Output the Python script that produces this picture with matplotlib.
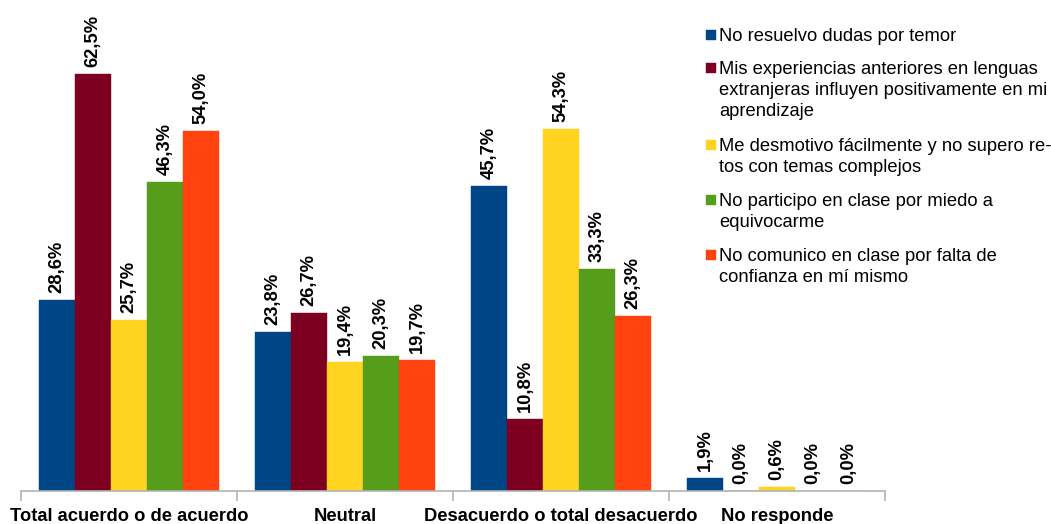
import numpy as np
import matplotlib.pyplot as plt
from matplotlib.patches import Rectangle

plt.rcParams["font.family"] = ["Liberation Sans", "DejaVu Sans"]

categories = [
    "Total acuerdo o de acuerdo",
    "Neutral",
    "Desacuerdo o total desacuerdo",
    "No responde",
]
series_labels = [
    "No resuelvo dudas por temor",
    "Mis experiencias anteriores en lenguas\nextranjeras influyen positivamente en mi\naprendizaje",
    "Me desmotivo fácilmente y no supero re-\ntos con temas complejos",
    "No participo en clase por miedo a\nequivocarme",
    "No comunico en clase por falta de\nconfianza en mí mismo",
]
no_resuelvo = [28.6, 23.8, 45.7, 1.9]
experiencias = [62.5, 26.7, 10.8, 0.0]
desmotivo = [25.7, 19.4, 54.3, 0.6]
no_participo = [46.3, 20.3, 33.3, 0.0]
no_comunico = [54.0, 19.7, 26.3, 0.0]

series = [no_resuelvo, experiencias, desmotivo, no_participo, no_comunico]
colors = ["#004586", "#7e0021", "#ffd320", "#579d1c", "#ff420e"]

W, H = 1051, 524


def fmt(v):
    return ("%.1f" % v).replace(".", ",") + "%"


fig = plt.figure(figsize=(W / 100, H / 100), dpi=100)
ax = fig.add_axes([21 / W, 1 - 491 / H, 864 / W, 491 / H])

x = np.arange(len(categories))
width = 1 / 6
for i, (vals, col) in enumerate(zip(series, colors)):
    pos = x + (i - 2) * width
    ax.bar(pos, vals, width=width, color=col, edgecolor=col, linewidth=0.3)
    for px, v in zip(pos, vals):
        ax.annotate(fmt(v), (px, v), xytext=(0, 5), textcoords="offset points",
                    rotation=90, ha="center", va="bottom", fontsize=13.2,
                    fontweight="bold")

ax.set_xlim(-0.5, len(categories) - 0.5)
ax.set_ylim(0, 491 / 6.67)

for s in ["top", "right", "left"]:
    ax.spines[s].set_visible(False)
ax.spines["bottom"].set_color("#b3b3b3")
ax.spines["bottom"].set_linewidth(1.2)
ax.set_yticks([])

ax.set_xticks(np.arange(len(categories) + 1) - 0.5)
ax.set_xticklabels([])
ax.tick_params(axis="x", which="major", length=7, color="#b3b3b3", width=1.2)
ax.set_xticks(x, minor=True)
ax.set_xticklabels(categories, minor=True, fontsize=13.2, fontweight="bold")
ax.tick_params(axis="x", which="minor", length=0, pad=12)

# legend drawn by hand: square next to the first line of each entry
first_line_y = [35, 68, 145, 200, 255]
for lab, col, yc in zip(series_labels, colors, first_line_y):
    fig.add_artist(Rectangle((706 / W, 1 - (yc + 5) / H), 10 / W, 10 / H,
                             transform=fig.transFigure, facecolor=col,
                             edgecolor=col, linewidth=0.3))
    fig.text(719 / W, 1 - (yc - 7) / H, lab, ha="left", va="top",
             fontsize=13.2, linespacing=1.32)

fig.savefig("out.png", dpi=100)
